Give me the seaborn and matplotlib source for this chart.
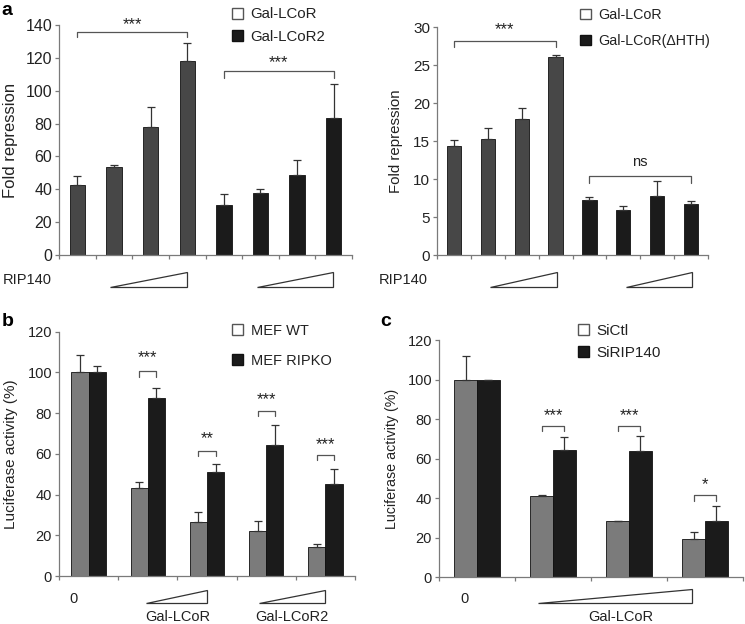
import numpy as np
import pandas as pd
import matplotlib
matplotlib.use("Agg")
import matplotlib.pyplot as plt
import seaborn as sns
from matplotlib.patches import Patch, Polygon

# panel a, left: fold repression, 4 RIP140 doses per construct
a1_lcor = [42.5, 53.5, 78, 118]
a1_lcor_err = [5.5, 1.5, 12, 11]
a1_lcor2 = [30.5, 37.5, 49, 83.5]
a1_lcor2_err = [6.5, 2.5, 9, 20.5]

# panel a, right
a2_lcor = [14.4, 15.3, 17.9, 26.1]
a2_lcor_err = [0.8, 1.5, 1.5, 0.3]
a2_dhth = [7.3, 5.9, 7.8, 6.7]
a2_dhth_err = [0.3, 0.6, 1.9, 0.4]

# panel b: luciferase activity (%)
b_groups = ["0", "L1", "L2", "L3", "L4"]
b_wt = [100, 43, 26.5, 22, 14]
b_wt_err = [8.5, 3, 5, 5, 1.5]
b_ko = [100, 87.5, 51, 64.5, 45]
b_ko_err = [3, 5, 4, 9.5, 7.5]
b_stars = ["***", "**", "***", "***"]

# panel c
c_groups = ["0", "L1", "L2", "L3"]
c_ctl = [100, 41, 28.5, 19]
c_ctl_err = [12, 0.3, 0.1, 4]
c_si = [100, 64.5, 64, 28.5]
c_si_err = [0, 6.5, 7.5, 7.5]
c_stars = ["***", "***", "*"]

sns.set_theme(style="ticks")
plt.rcParams["font.family"] = ["Liberation Sans", "DejaVu Sans"]

TXT = "#222222"
AX = "#7a7a7a"
DARK = "#474747"
BLACK = "#1b1b1b"
GREY = "#7b7b7b"

fig = plt.figure(figsize=(7.45, 6.24), dpi=100)


def style_axis(ax, n, ymax, ystep, size):
    ax.set_xlim(-0.5, n - 0.5)
    ax.set_ylim(0, ymax)
    ax.set_yticks(np.arange(0, ymax + 0.01, ystep))
    ax.set_xticks(np.arange(-0.5, n))
    ax.set_xticklabels([])
    ax.set_xlabel("")
    sns.despine(ax=ax)
    for s in ["left", "bottom"]:
        ax.spines[s].set_color(AX)
        ax.spines[s].set_linewidth(0.9)
    ax.tick_params(axis="both", direction="out", length=3, width=0.9,
                   color=AX, labelsize=size, labelcolor=TXT, pad=2)


def add_errors(ax, errs):
    for cont, err in zip(ax.containers, errs):
        xs = [b.get_x() + b.get_width() / 2 for b in cont]
        hs = [b.get_height() for b in cont]
        ax.errorbar(xs, hs, yerr=[np.zeros(len(err)), err], fmt="none",
                    ecolor="#333333", elinewidth=0.9, capsize=3, capthick=0.9)


def centers(ax, k):
    return [b.get_x() + b.get_width() / 2 for b in ax.containers[k]]


def bracket(ax, x1, x2, y, drop, label, ty, size=12):
    ax.plot([x1, x1, x2, x2], [y - drop, y, y, y - drop], color="#555555", lw=0.9)
    ax.text((x1 + x2) / 2, ty, label, ha="center", va="center",
            fontsize=size, color=TXT)


def wedge(ax, x0, x1, y0, y1):
    ax.add_patch(Polygon([(x0, y0), (x1, y0), (x1, y1)], closed=True,
                         transform=ax.get_xaxis_transform(), clip_on=False,
                         facecolor="white", edgecolor="#333333", lw=0.9))


def legend(ax, labels, colors, anchor, spacing, size):
    handles = [Patch(facecolor="white", edgecolor="#555555", lw=1),
               Patch(facecolor=colors[1], edgecolor="#111111", lw=1)]
    ax.legend(handles, labels, loc="upper left", bbox_to_anchor=anchor,
              bbox_transform=fig.transFigure, frameon=False, fontsize=size,
              handlelength=0.75, handleheight=0.75, handletextpad=0.5,
              borderpad=0, labelspacing=spacing, labelcolor=TXT)


def pair_panel(ax, labels, groups, v1, v2, colors, width):
    df = pd.DataFrame({"group": groups * 2, "value": v1 + v2,
                       "series": [labels[0]] * len(groups) + [labels[1]] * len(groups)})
    sns.barplot(data=df, x="group", y="value", hue="series", order=groups,
                palette=colors, width=width, errorbar=None, edgecolor="#111111",
                linewidth=0.6, legend=False, ax=ax)


def single_panel(ax, labels, v1, v2, colors):
    pos = [str(i) for i in range(len(v1) + len(v2))]
    df = pd.DataFrame({"pos": pos, "value": v1 + v2,
                       "series": [labels[0]] * len(v1) + [labels[1]] * len(v2)})
    sns.barplot(data=df, x="pos", y="value", hue="series", order=pos, dodge=False,
                palette=colors, width=0.42, errorbar=None, edgecolor="#111111",
                linewidth=0.6, legend=False, ax=ax)


def below(ax, x, y, s, size=10.5):
    ax.text(x, y, s, transform=ax.get_xaxis_transform(), ha="center",
            va="center", fontsize=size, color=TXT)


# ---- panel a left
ax1 = fig.add_axes([0.0792, 0.5913, 0.3933, 0.3686])
lab1 = ["Gal-LCoR", "Gal-LCoR2"]
single_panel(ax1, lab1, a1_lcor, a1_lcor2, [DARK, BLACK])
add_errors(ax1, [a1_lcor_err, a1_lcor2_err])
style_axis(ax1, 8, 140, 20, 11.5)
ax1.set_ylabel("Fold repression", fontsize=12, color=TXT, labelpad=5)
bracket(ax1, 0, 3, 135.5, 3, "***", 140.5)
bracket(ax1, 4, 7, 112, 4.5, "***", 117)
wedge(ax1, 0.9, 3.0, -0.139, -0.073)
wedge(ax1, 4.9, 6.97, -0.139, -0.073)
legend(ax1, lab1, [DARK, BLACK], (0.301, 1.0), 0.55, 10.8)

# ---- panel a right
ax2 = fig.add_axes([0.5866, 0.5913, 0.3638, 0.3649])
lab2 = ["Gal-LCoR", "Gal-LCoR(\u0394HTH)"]
single_panel(ax2, lab2, a2_lcor, a2_dhth, [DARK, BLACK])
add_errors(ax2, [a2_lcor_err, a2_dhth_err])
style_axis(ax2, 8, 30, 5, 11)
ax2.set_ylabel("Fold repression", fontsize=10.8, color=TXT, labelpad=7)
bracket(ax2, 0, 3, 28.2, 0.8, "***", 29.7)
bracket(ax2, 4, 7, 10.4, 0.9, "ns", 12.2, size=10.5)
wedge(ax2, 1.06, 3.05, -0.139, -0.073)
wedge(ax2, 5.09, 7.03, -0.139, -0.073)
legend(ax2, lab2, [DARK, BLACK], (0.769, 0.999), 0.85, 10.3)

fig.text(0.004, 0.551, "RIP140", fontsize=10.5, color=TXT, va="center")
fig.text(0.509, 0.551, "RIP140", fontsize=10.5, color=TXT, va="center")

# ---- panel b
ax3 = fig.add_axes([0.0792, 0.0769, 0.3973, 0.3918])
lab3 = ["MEF WT", "MEF RIPKO"]
pair_panel(ax3, lab3, b_groups, b_wt, b_ko, [GREY, BLACK], 0.58)
add_errors(ax3, [b_wt_err, b_ko_err])
style_axis(ax3, 5, 120, 20, 10.5)
ax3.set_ylabel("Luciferase activity (%)", fontsize=11, color=TXT, labelpad=7)
xw, xk = centers(ax3, 0), centers(ax3, 1)
b_br = [(100.4, 2.5, 107), (61.4, 2.6, 67.5), (80.8, 2.4, 86.7), (59.3, 2.5, 64.3)]
for i, (star, (y, d, ty)) in enumerate(zip(b_stars, b_br), start=1):
    bracket(ax3, xw[i], xk[i], y, d, star, ty)
wedge(ax3, 0.97, 2.0, -0.110, -0.057)
wedge(ax3, 2.88, 4.0, -0.110, -0.057)
below(ax3, -0.25, -0.094, "0")
below(ax3, 1.51, -0.168, "Gal-LCoR")
below(ax3, 3.44, -0.168, "Gal-LCoR2")
legend(ax3, lab3, [GREY, BLACK], (0.302, 0.493), 1.1, 10.5)

# ---- panel c
ax4 = fig.add_axes([0.5893, 0.0753, 0.408, 0.3798])
lab4 = ["SiCtl", "SiRIP140"]
pair_panel(ax4, lab4, c_groups, c_ctl, c_si, [GREY, BLACK], 0.6)
add_errors(ax4, [c_ctl_err, c_si_err])
style_axis(ax4, 4, 120, 20, 10.5)
ax4.set_ylabel("Luciferase activity (%)", fontsize=10.3, color=TXT, labelpad=6)
xc, xs = centers(ax4, 0), centers(ax4, 1)
c_br = [(76.5, 2.8, 81.5), (76.5, 2.8, 81.5), (41.5, 2.8, 47)]
for i, (star, (y, d, ty)) in enumerate(zip(c_stars, c_br), start=1):
    bracket(ax4, xc[i], xs[i], y, d, star, ty)
wedge(ax4, 0.80, 2.83, -0.110, -0.051)
below(ax4, -0.17, -0.093, "0")
below(ax4, 1.89, -0.169, "Gal-LCoR")
legend(ax4, lab4, [GREY, BLACK], (0.765, 0.493), 0.5, 11)

# panel letters
fig.text(0.002, 0.997, "a", fontsize=14, fontweight="bold", color="black", va="top")
fig.text(0.002, 0.499, "b", fontsize=14, fontweight="bold", color="black", va="top")
fig.text(0.511, 0.499, "c", fontsize=14, fontweight="bold", color="black", va="top")

fig.savefig("out.png", dpi=100, facecolor="white")
